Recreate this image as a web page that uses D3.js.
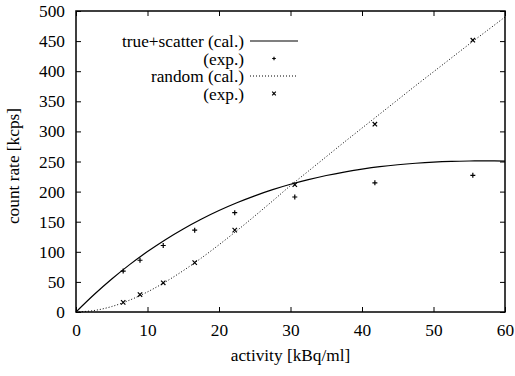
<!DOCTYPE html>
<html>
<head>
<meta charset="utf-8">
<title>count rate</title>
<script src="https://d3js.org/d3.v7.min.js"></script>
</head>
<body style="margin:0;background:#fff">
<svg width="515" height="376"></svg>
<script>
// calculated curves
const curveX = [0, 2.5, 5, 7.5, 10, 12.5, 15, 17.5, 20, 22.5, 25, 27.5, 30, 32.5, 35, 37.5, 40, 42.5, 45, 47.5, 50, 52.5, 55, 57.5, 60]
const trueCal = [0, 28.6, 54.8, 78.7, 100.4, 120.2, 138, 154.1, 168.6, 181.5, 193, 203.2, 212.2, 219.9, 226.7, 232.5, 237.3, 241.4, 244.6, 247.1, 249, 250.2, 250.8, 251, 250.7]
const randomCal = [0, 2.4, 9.1, 19.7, 33.4, 49.9, 68.7, 89.4, 111.7, 135.1, 159.5, 184.5, 210, 234, 258, 282, 305.5, 329, 352.5, 376, 399, 422, 445, 467.5, 490]

// measured points
const expX = [6.6, 8.95, 12.2, 16.6, 22.2, 30.6, 41.8, 55.5]
const trueExp = [68, 86, 110.5, 136, 165, 191, 214.5, 227]
const randomExp = [16, 29, 48.5, 82, 136, 211.5, 312, 451.5]

const xTicks = [0, 10, 20, 30, 40, 50, 60]
const yTicks = [0, 50, 100, 150, 200, 250, 300, 350, 400, 450, 500]

const legendLabels = ["true+scatter (cal.)", "(exp.)", "random (cal.)", "(exp.)"]

const FONT = "'Liberation Serif', 'Times New Roman', serif"

const svg = d3.select("svg")
const margin = { top: 11, right: 10, bottom: 64, left: 76 }
const width = +svg.attr("width") - margin.left - margin.right
const height = +svg.attr("height") - margin.top - margin.bottom

const x = d3.scaleLinear().domain([0, 60]).range([0, width])
const y = d3.scaleLinear().domain([0, 500]).range([height, 0])

const g = svg.append("g").attr("transform", `translate(${margin.left},${margin.top})`)

// ticks on all four sides, pointing inward
const tk = 5
g.append("g").attr("transform", `translate(0,${height})`)
  .call(d3.axisBottom(x).tickValues(xTicks).tickSize(-tk).tickPadding(12))
g.append("g")
  .call(d3.axisLeft(y).tickValues(yTicks).tickSize(-tk).tickPadding(11))
g.append("g")
  .call(d3.axisTop(x).tickValues(xTicks).tickSize(-tk).tickFormat(""))
g.append("g").attr("transform", `translate(${width},0)`)
  .call(d3.axisRight(y).tickValues(yTicks).tickSize(-tk).tickFormat(""))

g.selectAll(".domain").remove()
g.selectAll(".tick line").attr("stroke", "#000").attr("stroke-width", 1)

g.append("rect")
  .attr("width", width).attr("height", height)
  .attr("fill", "none").attr("stroke", "#000").attr("stroke-width", 1.5)

const line = d3.line()
  .x((d, i) => x(curveX[i]))
  .y(d => y(d))
  .curve(d3.curveCatmullRom)

g.append("path").datum(trueCal)
  .attr("d", line)
  .attr("fill", "none").attr("stroke", "#000").attr("stroke-width", 1.2)

g.append("path").datum(randomCal)
  .attr("d", line)
  .attr("fill", "none").attr("stroke", "#000").attr("stroke-width", 1)
  .attr("stroke-dasharray", "1,2")

const plus = (sel, s) => sel.append("path")
  .attr("d", `M${-s},0H${s}M0,${-s}V${s}`)
  .attr("stroke", "#000").attr("stroke-width", 1.2).attr("fill", "none")
const cross = (sel, s) => sel.append("path")
  .attr("d", `M${-s},${-s}L${s},${s}M${-s},${s}L${s},${-s}`)
  .attr("stroke", "#000").attr("stroke-width", 1.2).attr("fill", "none")

g.selectAll(".pt-true").data(trueExp).enter().append("g")
  .attr("class", "pt-true")
  .attr("transform", (d, i) => `translate(${x(expX[i])},${y(d)})`)
  .each(function () { plus(d3.select(this), 2.5) })

g.selectAll(".pt-rand").data(randomExp).enter().append("g")
  .attr("class", "pt-rand")
  .attr("transform", (d, i) => `translate(${x(expX[i])},${y(d)})`)
  .each(function () { cross(d3.select(this), 2.2) })

// legend
const lg = svg.append("g").attr("transform", "translate(244,41)")
legendLabels.forEach((t, i) => {
  const row = lg.append("g").attr("transform", `translate(0,${i * 17.5})`)
  row.append("text").attr("text-anchor", "end").attr("dy", "0.35em").text(t)
  const s = row.append("g").attr("transform", "translate(30,0)")
  if (i === 0) s.append("line").attr("x1", -24).attr("x2", 24).attr("stroke", "#000").attr("stroke-width", 1.2)
  if (i === 1) plus(s, 1.8)
  if (i === 2) s.append("line").attr("x1", -24).attr("x2", 24).attr("stroke", "#000").attr("stroke-dasharray", "1,2")
  if (i === 3) cross(s, 1.8)
})

svg.append("text")
  .attr("x", margin.left + width / 2).attr("y", 361)
  .attr("text-anchor", "middle")
  .text("activity [kBq/ml]")

svg.append("text")
  .attr("transform", `translate(19,166) rotate(-90)`)
  .attr("text-anchor", "middle")
  .text("count rate [kcps]")

svg.selectAll("text")
  .attr("font-family", FONT)
  .style("font-family", FONT)
  .style("font-size", "17.3px")
  .attr("fill", "#000")
</script>
</body>
</html>
